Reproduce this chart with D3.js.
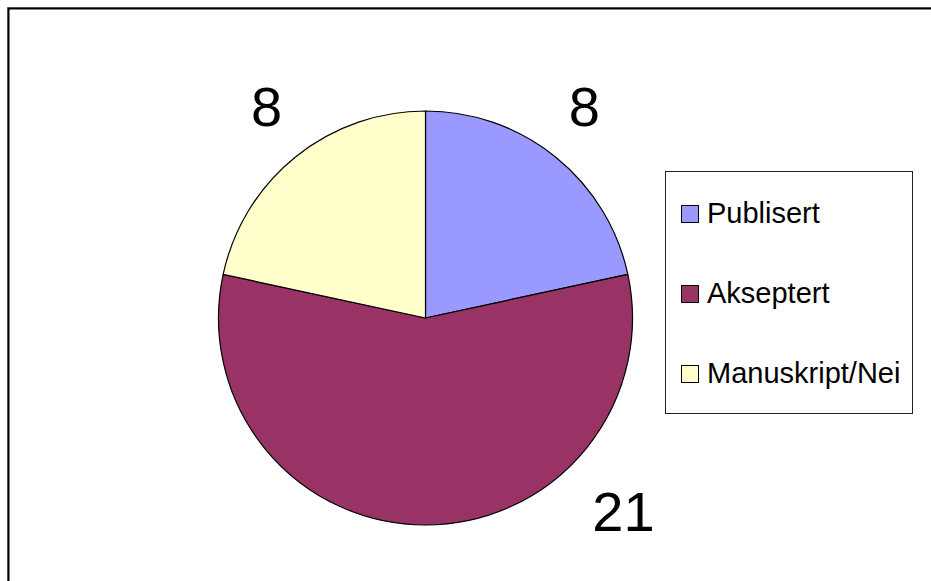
<!DOCTYPE html>
<html>
<head>
<meta charset="utf-8">
<script src="https://cdn.jsdelivr.net/npm/d3@7"></script>
<style>
  html, body { margin: 0; padding: 0; background: #fff; }
  svg { display: block; font-family: "Liberation Sans", Arial, sans-serif; }
</style>
</head>
<body>
<svg class="chart" width="931" height="581"></svg>
<script>
var categories = ["Publisert", "Akseptert", "Manuskript/Nei"];
var values = [8, 21, 8];
var colors = ["#9999ff", "#993366", "#ffffcc"];

(function () {
    var svg = d3.select(".chart");

    // outer frame (runs off the right and bottom edge)
    svg.append("rect")
        .attr("x", 7.5).attr("y", 7.5)
        .attr("width", 1000).attr("height", 1000)
        .attr("fill", "none")
        .attr("stroke", "#999")
        .attr("stroke-width", 1);
    svg.append("rect")
        .attr("x", 8.5).attr("y", 8.5)
        .attr("width", 1000).attr("height", 1000)
        .attr("fill", "none")
        .attr("stroke", "#000")
        .attr("stroke-width", 2);

    var cx = 425.5, cy = 318, radius = 207;

    var data = categories.map(function (c, i) {
        return { name: c, value: values[i], color: colors[i] };
    });

    var pie = d3.pie()
        .sort(null)
        .value(function (d) { return d.value; });

    var arc = d3.arc().innerRadius(0).outerRadius(radius);
    var labelArc = d3.arc().innerRadius(258).outerRadius(258);

    var g = svg.append("g").attr("transform", "translate(" + cx + "," + cy + ")");
    var arcs = pie(data);

    g.selectAll(".slice")
        .data(arcs)
        .enter()
        .append("path")
        .attr("class", "slice")
        .attr("d", arc)
        .attr("fill", function (d) { return d.data.color; })
        .attr("stroke", "#000")
        .attr("stroke-width", 1.2)
        .attr("stroke-linejoin", "round");

    // value labels; the big slice label is pushed to the lower right like the original
    g.selectAll(".value")
        .data(arcs)
        .enter()
        .append("text")
        .attr("class", "value")
        .attr("transform", function (d) {
            var p = labelArc.centroid(d);
            p = [p[0] * 0.98, p[1] - 11];
            if (d.data.value > 10) p = [198, 193];
            return "translate(" + p[0] + "," + p[1] + ")";
        })
        .attr("text-anchor", "middle")
        .attr("dy", "0.36em")
        .attr("font-size", "56px")
        .attr("fill", "#000")
        .text(function (d) { return d.data.value; });

    // legend
    var lx = 665, ly = 171, lw = 247, lh = 242;
    var legend = svg.append("g");
    legend.append("rect")
        .attr("x", lx + 0.5).attr("y", ly + 0.5)
        .attr("width", lw).attr("height", lh)
        .attr("fill", "#fff")
        .attr("stroke", "#222")
        .attr("stroke-width", 1);

    var row = legend.selectAll(".row")
        .data(data)
        .enter()
        .append("g")
        .attr("class", "row")
        .attr("transform", function (d, i) { return "translate(" + (lx + 16) + "," + (ly + 52 + i * 80) + ")"; });

    row.append("rect")
        .attr("x", 0.5).attr("y", -17.5)
        .attr("width", 17).attr("height", 17)
        .attr("fill", function (d) { return d.color; })
        .attr("stroke", "#000")
        .attr("stroke-width", 1);

    row.append("text")
        .attr("x", 26)
        .attr("y", 0)
        .attr("font-size", "29px")
        .attr("fill", "#000")
        .text(function (d) { return d.name; });
})();
</script>
</body>
</html>
